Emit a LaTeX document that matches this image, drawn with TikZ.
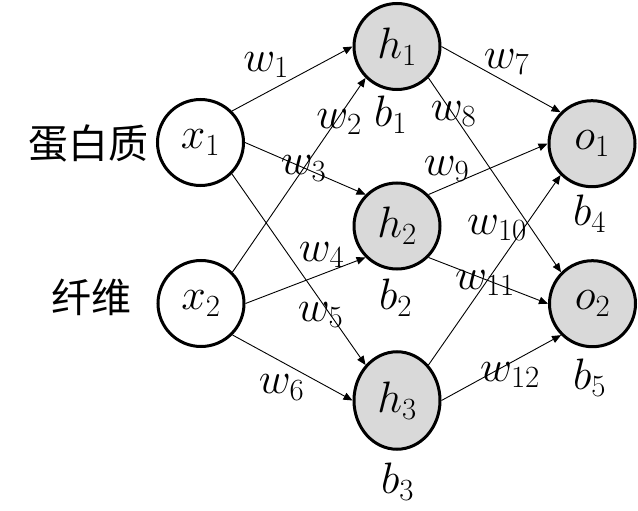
\documentclass[tikz,border=0pt]{standalone}
\usepackage{fix-cm}
\usepackage{fontspec}
\newfontfamily\cjkfont{Noto Sans CJK SC}
\usetikzlibrary{arrows.meta,shapes.geometric}
\definecolor{nodegray}{HTML}{D9D9D9}
\tikzset{
  neuron/.style={circle, draw=black, line width=3pt, minimum size=86pt, inner sep=0pt,
    font=\fontsize{44}{48}\selectfont},
  inneuron/.style={neuron, fill=white},
  hidneuron/.style={neuron, fill=nodegray},
  conn/.style={line width=0.9pt, -{Triangle[length=9pt,width=7.5pt]}},
  wlab/.style={inner sep=0pt, font=\fontsize{44}{48}\selectfont},
  cnlab/.style={inner sep=0pt, font=\cjkfont\fontsize{40}{44}\selectfont}
}
\begin{document}
\begin{tikzpicture}[x=1pt,y=-1pt]
\useasboundingbox (0,0) rectangle (638,511);
% nodes
\node[inneuron] (x1) at (200.5,142.5) {$x_1$};
\node[inneuron] (x2) at (201,303.5) {$x_2$};
\node[hidneuron] (h1) at (397,46.5) {$h_1$};
\node[hidneuron] (h2) at (397,226) {$h_2$};
\node[hidneuron, ellipse, minimum width=86pt, minimum height=97.5pt] (h3) at (397,400.5) {$h_3$};
\node[hidneuron] (o1) at (592,143.7) {$o_1$};
\node[hidneuron] (o2) at (592.5,303.7) {$o_2$};
% connectors
\draw[conn] (x1.north east) -- (h1.west);
\draw[conn] (x2.north east) -- (h1.south west);
\draw[conn] (x1.east) -- (h2.north west);
\draw[conn] (x2.east) -- (h2.south west);
\draw[conn] (x1.south east) -- (h3.north west);
\draw[conn] (x2.south east) -- (h3.west);
\draw[conn] (h1.east) -- (o1.north west);
\draw[conn] (h1.south east) -- (o2.north west);
\draw[conn] (h2.north east) -- (o1.west);
\draw[conn] (h3.north east) -- (o1.south west);
\draw[conn] (h2.south east) -- (o2.west);
\draw[conn] (h3.east) -- (o2.south west);
% labels
\node[wlab] (lw1) at (266,65) {$w_1$};
\node[wlab] (lw2) at (339,122) {$w_2$};
\node[wlab] (lw3) at (303.5,168.5) {$w_3$};
\node[wlab] (lw4) at (321.5,255) {$w_4$};
\node[wlab] (lw5) at (320.5,315) {$w_5$};
\node[wlab] (lw6) at (281.5,387.5) {$w_6$};
\node[wlab] (lw7) at (506.5,62) {$w_7$};
\node[wlab] (lw8) at (453.5,114) {$w_8$};
\node[wlab] (lw9) at (446.5,169) {$w_9$};
\node[wlab] (lw10) at (497,228) {$w_{10}$};
\node[wlab] (lw11) at (485,283) {$w_{11}$};
\node[wlab] (lw12) at (510,375) {$w_{12}$};
\node[wlab] (lb1) at (390.5,115) {$b_1$};
\node[wlab] (lb2) at (395.5,297.5) {$b_2$};
\node[wlab] (lb3) at (397.5,481.5) {$b_3$};
\node[wlab] (lb4) at (589.5,213.5) {$b_4$};
\node[wlab] (lb5) at (589.5,377.5) {$b_5$};
\node[cnlab] (protein) at (88,143.5) {蛋白质};
\node[cnlab] (fiber) at (91,297.5) {纤维};
\end{tikzpicture}
\end{document}
